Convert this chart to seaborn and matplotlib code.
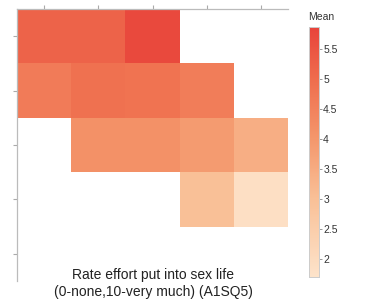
import numpy as np
import pandas as pd
import matplotlib
matplotlib.use("Agg")
import matplotlib.pyplot as plt
import seaborn as sns
from matplotlib.colors import LinearSegmentedColormap

sns.set_style("white")
plt.rcParams['font.family'] = ['Liberation Sans', 'DejaVu Sans']

col_labels = ["c1", "c2", "c3", "c4", "c5"]
row_labels = ["r1", "r2", "r3", "r4", "r5"]
row1 = [5.2, 5.2, 5.75, np.nan, np.nan]
row2 = [4.65, 4.9, 4.85, 4.6, np.nan]
row3 = [np.nan, 4.15, 4.15, 3.9, 3.45]
row4 = [np.nan, np.nan, np.nan, 3.0, 1.85]
row5 = [np.nan, np.nan, np.nan, np.nan, np.nan]
vmin, vmax = 1.7, 5.87
cbar_ticks = [2, 2.5, 3, 3.5, 4, 4.5, 5, 5.5]
cbar_labels = ["2", "2.5", "3", "3.5", "4", "4.5", "5", "5.5"]

df = pd.DataFrame([row1, row2, row3, row4, row5], index=row_labels, columns=col_labels)

def pos(v):
    return (v - vmin) / (vmax - vmin)

cmap = LinearSegmentedColormap.from_list(
    "mean", [(0.0, "#fde3ca"), (pos(3.0), "#f9c097"), (pos(4.0), "#f4976c"),
             (pos(5.0), "#ef6d4d"), (1.0, "#e8433b")])

fig = plt.figure(figsize=(3.85, 3.05), dpi=100)
ax = fig.add_axes([17/385, 1-281/305, 271/385, 272/305])
cax = fig.add_axes([309/385, 1-277/305, 10/385, 250/305])

sns.heatmap(df, ax=ax, cmap=cmap, vmin=vmin, vmax=vmax, cbar_ax=cax,
            cbar_kws={"ticks": cbar_ticks})

ax.set_xlabel("")
ax.set_ylabel("")
ax.xaxis.tick_top()
ax.set_xticklabels([])
ax.set_yticklabels([])
ax.tick_params(axis="both", length=3, width=0.8, color="#aaaaaa", direction="out",
               top=True, bottom=False, left=True)
for s in ["top", "left"]:
    ax.spines[s].set_visible(True)
    ax.spines[s].set_color("#bbbbbb")
    ax.spines[s].set_linewidth(0.9)
for s in ["right", "bottom"]:
    ax.spines[s].set_visible(False)

cax.tick_params(labelsize=7.5, length=2, width=0.6, color="#888888", labelcolor="#333333", pad=1)
for s in cax.spines.values():
    s.set_visible(True)
    s.set_color("#cccccc")
    s.set_linewidth(0.6)
cax.set_yticklabels(cbar_labels)

fig.text(308/385, 1-17/305, "Mean", fontsize=7.5, color="#333333", ha="left", va="center")
fig.text(153/385, 1-275/305, "Rate effort put into sex life", fontsize=10,
         color="#222222", ha="center", va="center")
fig.text(153/385, 1-292/305, "(0-none,10-very much) (A1SQ5)", fontsize=10,
         color="#222222", ha="center", va="center")

fig.savefig("out.png", dpi=100)
